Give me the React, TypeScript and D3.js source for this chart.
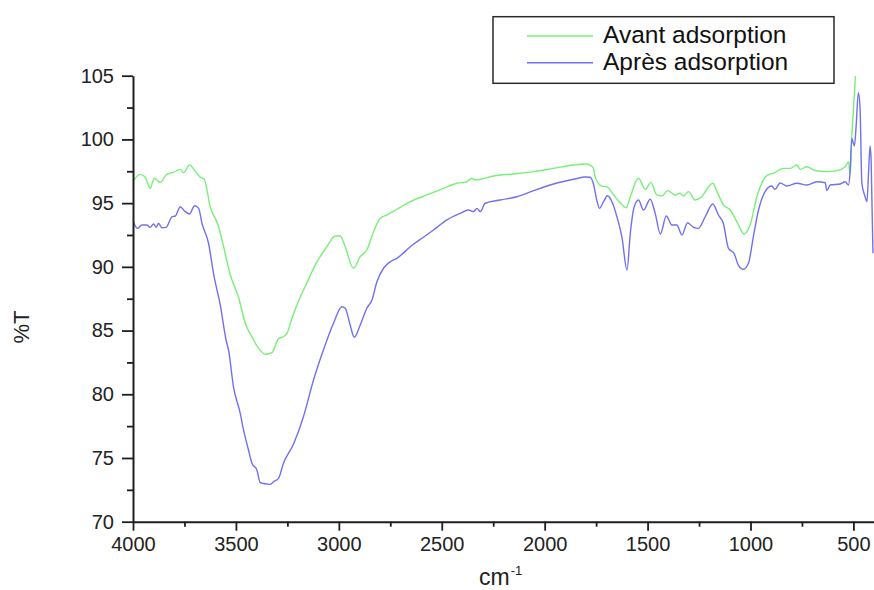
import React, { useEffect, useRef } from "react";
import * as d3 from "d3";

// FTIR spectra: transmittance (%T) versus wavenumber (cm-1)
const avantWavenumber = [
  4000, 3966, 3942, 3916, 3897, 3868, 3836, 3803, 3770, 3754, 3725, 3697, 3673, 3654, 3625, 3584,
  3560, 3527, 3487, 3455, 3422, 3390, 3356, 3325, 3292, 3276, 3252, 3228, 3196, 3156, 3115, 3058,
  3018, 2993, 2969, 2929, 2896, 2864, 2831, 2799, 2766, 2718, 2653, 2572, 2491, 2426, 2378, 2353,
  2337, 2313, 2248, 2151, 2054, 1957, 1860, 1800, 1779, 1763, 1755, 1722, 1698, 1665, 1633, 1604,
  1584, 1544, 1511, 1484, 1455, 1430, 1403, 1366, 1342, 1326, 1301, 1269, 1237, 1204, 1183, 1163,
  1131, 1098, 1066, 1031, 1002, 969, 937, 905, 888, 856, 839, 807, 775, 758, 726, 693, 661, 629,
  580, 540, 524, 516, 508, 500, 490,
];
const avantT = [
  96.7, 97.26, 97.07, 96.16, 96.95, 96.63, 97.26, 97.42, 97.65, 97.39, 98.0, 97.47, 97.03, 96.87,
  94.72, 93.15, 91.58, 89.36, 87.6, 85.6, 84.5, 83.6, 83.14, 83.26, 84.39, 84.47, 84.78, 85.96,
  87.3, 88.71, 90.14, 91.58, 92.42, 92.42, 91.58, 89.89, 90.8, 91.32, 92.76, 93.81, 94.07, 94.52,
  95.11, 95.64, 96.16, 96.56, 96.68, 96.95, 96.82, 96.87, 97.13, 97.29, 97.47, 97.73, 97.99,
  98.07, 97.99, 97.73, 97.07, 96.34, 96.29, 95.64, 95.03, 94.64, 95.5, 96.95, 96.08, 96.63,
  95.64, 95.56, 95.98, 95.64, 95.77, 95.56, 95.9, 95.25, 95.5, 96.29, 96.56, 95.9, 94.85, 94.46,
  93.54, 92.58, 93.28, 95.5, 96.82, 97.29, 97.34, 97.65, 97.73, 97.73, 97.99, 97.65, 97.86, 97.6,
  97.5, 97.47, 97.55, 97.86, 98.25, 97.21, 100.2, 102.3, 105.0,
];

const apresWavenumber = [
  4000, 3978, 3957, 3933, 3916, 3900, 3887, 3876, 3860, 3839, 3811, 3795, 3770, 3751, 3725, 3701,
  3681, 3665, 3633, 3608, 3576, 3547, 3536, 3512, 3479, 3463, 3439, 3422, 3398, 3382, 3366, 3350,
  3333, 3317, 3293, 3269, 3220, 3172, 3123, 3075, 3026, 2985, 2969, 2945, 2925, 2896, 2864, 2839,
  2815, 2783, 2742, 2718, 2653, 2589, 2540, 2475, 2410, 2370, 2346, 2329, 2313, 2289, 2216, 2135,
  2054, 1957, 1860, 1800, 1779, 1763, 1747, 1734, 1714, 1695, 1673, 1649, 1625, 1600, 1584, 1565,
  1544, 1520, 1487, 1463, 1438, 1409, 1382, 1358, 1333, 1306, 1277, 1253, 1220, 1183, 1156, 1132,
  1107, 1080, 1059, 1034, 1010, 986, 961, 929, 897, 881, 856, 823, 775, 726, 677, 637, 629, 613,
  564, 540, 524, 516, 508, 500, 495, 487, 476, 468, 459, 443, 434, 426, 419, 414, 405,
];
const apresT = [
  93.6, 93.02, 93.28, 93.28, 93.1, 93.36, 93.1, 93.42, 93.07, 93.1, 93.93, 93.99, 94.72, 94.4,
  94.15, 94.8, 94.59, 93.42, 91.85, 89.4, 87.0, 84.2, 83.48, 80.6, 78.5, 77.2, 75.63, 74.58, 74.06,
  73.06, 73.0, 72.96, 72.93, 73.14, 73.4, 74.58, 76.1, 78.24, 81.12, 83.47, 85.57, 86.87, 86.75,
  85.44, 84.47, 85.44, 86.75, 87.4, 88.83, 89.89, 90.48, 90.67, 91.58, 92.32, 92.89, 93.68, 94.2,
  94.46, 94.33, 94.59, 94.33, 94.99, 95.25, 95.5, 95.98, 96.5, 96.87, 97.05, 97.03, 96.5, 95.25,
  94.59, 95.11, 95.58, 95.11, 93.93, 92.37, 89.75, 92.63, 94.72, 95.25, 94.46, 95.3, 94.2, 92.58,
  93.99, 93.28, 93.28, 92.5, 93.46, 93.1, 93.02, 93.93, 94.93, 94.07, 93.42, 91.45, 91.06, 90.14,
  89.81, 90.28, 92.37, 94.46, 95.9, 96.34, 96.08, 96.58, 96.34, 96.56, 96.42, 96.68, 96.6, 95.98,
  96.42, 96.5, 96.68, 96.42, 97.5, 100.08, 99.69, 99.48, 101.0, 103.67, 102.57, 96.56, 95.5,
  95.11, 97.6, 99.48, 98.38, 91.06,
];

const seriesNames = ["Avant adsorption", "Après adsorption"];
const seriesColors = ["#78f078", "#7070f2"];

const xTicks = [4000, 3500, 3000, 2500, 2000, 1500, 1000, 500];
const xMinorTicks = [3750, 3250, 2750, 2250, 1750, 1250, 750];
const yTicks = [70, 75, 80, 85, 90, 95, 100, 105];
const yMinorTicks = [72.5, 77.5, 82.5, 87.5, 92.5, 97.5, 102.5];

const W = 874;
const H = 590;
const left = 133;
const right = 874;
const top = 75.7;
const bottom = 521.7;
const font = "'Liberation Sans', Arial, sans-serif";
const axisColor = "#1e1e1e";

export default function App() {
  const ref = useRef<SVGSVGElement>(null);

  useEffect(() => {
    const svg = d3.select(ref.current);
    svg.selectAll("*").remove();

    const x = d3.scaleLinear().domain([4000, 400]).range([left, right]);
    const y = d3.scaleLinear().domain([70, 105]).range([bottom, top]);

    svg
      .append("defs")
      .append("clipPath")
      .attr("id", "plot-clip")
      .append("rect")
      .attr("x", left)
      .attr("y", top)
      .attr("width", right - left)
      .attr("height", bottom - top);

    const line = d3
      .line<[number, number]>()
      .x((d) => x(d[0]))
      .y((d) => y(d[1]))
      .curve(d3.curveMonotoneX);

    const series: [number, number][][] = [
      avantWavenumber.map((w, i) => [w, avantT[i]]),
      apresWavenumber.map((w, i) => [w, apresT[i]]),
    ];

    const plot = svg.append("g").attr("clip-path", "url(#plot-clip)");
    series.forEach((pts, i) => {
      plot
        .append("path")
        .attr("d", line(pts) as string)
        .attr("fill", "none")
        .attr("stroke", seriesColors[i])
        .attr("stroke-width", 1.4)
        .attr("stroke-linejoin", "round");
    });

    // Axes
    const styleAxis = (g: d3.Selection<SVGGElement, unknown, null, undefined>) => {
      g.select(".domain").attr("stroke", axisColor).attr("stroke-width", 2);
      g.selectAll(".tick line").attr("stroke", axisColor).attr("stroke-width", 1.8);
      g.selectAll(".tick text")
        .attr("fill", "#222")
        .style("font-family", font)
        .style("font-size", "20px");
    };

    const yAxis = svg
      .append("g")
      .attr("transform", `translate(${left},0)`)
      .call(
        d3
          .axisLeft(y)
          .tickValues(yTicks)
          .tickSize(11)
          .tickSizeOuter(0)
          .tickPadding(8)
          .tickFormat(d3.format("d"))
      );
    styleAxis(yAxis);

    const yMinor = svg
      .append("g")
      .attr("transform", `translate(${left},0)`)
      .call(d3.axisLeft(y).tickValues(yMinorTicks).tickSize(6).tickSizeOuter(0).tickFormat(() => ""));
    yMinor.select(".domain").remove();
    yMinor.selectAll(".tick line").attr("stroke", axisColor).attr("stroke-width", 1.8);

    const xAxis = svg
      .append("g")
      .attr("transform", `translate(0,${bottom})`)
      .call(
        d3
          .axisBottom(x)
          .tickValues(xTicks)
          .tickSize(9)
          .tickSizeOuter(0)
          .tickPadding(6)
          .tickFormat(d3.format("d"))
      );
    styleAxis(xAxis);

    const xMinor = svg
      .append("g")
      .attr("transform", `translate(0,${bottom})`)
      .call(d3.axisBottom(x).tickValues(xMinorTicks).tickSize(5).tickSizeOuter(0).tickFormat(() => ""));
    xMinor.select(".domain").remove();
    xMinor.selectAll(".tick line").attr("stroke", axisColor).attr("stroke-width", 1.8);

    // Axis titles
    svg
      .append("text")
      .attr("transform", "translate(29,327) rotate(-90)")
      .attr("text-anchor", "middle")
      .attr("fill", "#222")
      .style("font-family", font)
      .style("font-size", "22px")
      .text("%T");

    const xt = svg
      .append("text")
      .attr("x", 479)
      .attr("y", 585)
      .attr("fill", "#222")
      .style("font-family", font)
      .style("font-size", "23px");
    xt.append("tspan").text("cm");
    xt.append("tspan")
      .attr("dx", 1)
      .attr("dy", -10)
      .style("font-size", "13px")
      .text("-1");

    // Legend
    const lg = svg.append("g");
    lg.append("rect")
      .attr("x", 493)
      .attr("y", 16.7)
      .attr("width", 341)
      .attr("height", 66.6)
      .attr("fill", "white")
      .attr("stroke", "#2a2a2a")
      .attr("stroke-width", 1.5);
    const rows = [
      { lineY: 36, textY: 43.3 },
      { lineY: 62.7, textY: 70 },
    ];
    seriesNames.forEach((name, i) => {
      lg.append("line")
        .attr("x1", 527)
        .attr("x2", 593)
        .attr("y1", rows[i].lineY)
        .attr("y2", rows[i].lineY)
        .attr("stroke", seriesColors[i])
        .attr("stroke-width", 1.4);
      lg.append("text")
        .attr("x", 603)
        .attr("y", rows[i].textY)
        .attr("fill", "#111")
        .style("font-family", font)
        .style("font-size", "24.5px")
        .text(name);
    });
  }, []);

  return (
    <svg
      ref={ref}
      width={W}
      height={H}
      style={{ position: "absolute", left: 0, top: 0, background: "white" }}
    />
  );
}
